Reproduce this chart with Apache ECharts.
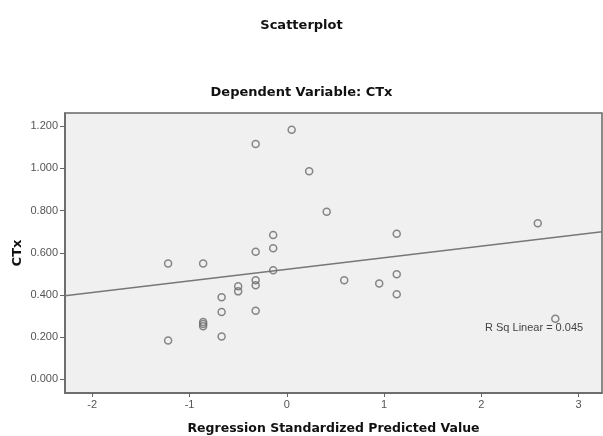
<!DOCTYPE html>
<html>
<head>
<meta charset="utf-8">
<script src="https://cdn.jsdelivr.net/npm/echarts@6/dist/echarts.min.js"></script>
<style>html,body{margin:0;padding:0;background:#fff}#c{width:603px;height:436px}</style>
</head>
<body>
<div id="c"></div>
<script>
// Regression standardized predicted value (x)
var predX = [0.05, -0.32, 0.23, 0.41, -0.14, -0.14, -0.32, -1.22, -0.86, -0.14,
             -0.32, -0.32, -0.50, -0.50, -0.67, -0.67, -0.32, -0.86, -0.86, -0.86,
             -0.67, -1.22, 0.59, 2.58, 1.13, 1.13, 0.95, 1.13, 2.76];
// CTx (y)
var ctx = [1.184, 1.116, 0.987, 0.795, 0.684, 0.622, 0.605, 0.549, 0.549, 0.517,
           0.470, 0.446, 0.441, 0.417, 0.389, 0.319, 0.325, 0.272, 0.262, 0.252,
           0.203, 0.184, 0.470, 0.740, 0.690, 0.498, 0.454, 0.403, 0.287];
var xTicks = [-2, -1, 0, 1, 2, 3];
var yTicks = [0, 0.2, 0.4, 0.6, 0.8, 1.0, 1.2];
var xRange = [-2.28, 3.24];
var yRange = [-0.065, 1.263];
// Fit line
var fitIntercept = 0.522;
var fitSlope = 0.055;
var rSqText = 'R Sq Linear = 0.045';

var pts = predX.map(function (x, i) { return [x, ctx[i]]; });
var fitLine = xRange.map(function (x) { return [x, fitIntercept + fitSlope * x]; });

var chart = echarts.init(document.getElementById('c'), null, {renderer: 'canvas'});
var tickFont = {fontFamily: 'Liberation Sans', fontSize: 11, color: '#555'};
chart.setOption({
  animation: false,
  title: [
    {text: 'Scatterplot', left: 'center', top: 14,
     textStyle: {fontFamily: 'DejaVu Sans', fontWeight: 'bold', fontSize: 13, color: '#111'}},
    {text: 'Dependent Variable: CTx', left: 'center', top: 81,
     textStyle: {fontFamily: 'DejaVu Sans', fontWeight: 'bold', fontSize: 13, color: '#111'}}
  ],
  grid: {left: 65, right: 1, top: 113, bottom: 43, show: true, containLabel: false,
         outerBoundsMode: 'none',
         backgroundColor: '#f0f0f0', borderColor: '#666', borderWidth: 1.5},
  xAxis: {
    type: 'value', min: xRange[0], max: xRange[1],
    name: 'Regression Standardized Predicted Value', nameLocation: 'middle', nameGap: 29,
    nameTextStyle: {fontFamily: 'DejaVu Sans', fontWeight: 'bold', fontSize: 12.5, color: '#111'},
    axisLine: {show: true, onZero: false, lineStyle: {color: '#666', width: 1.5}},
    axisTick: {show: true, length: 4, customValues: xTicks, lineStyle: {color: '#666'}},
    axisLabel: Object.assign({customValues: xTicks, margin: 6}, tickFont),
    splitLine: {show: false}
  },
  yAxis: {
    type: 'value', min: yRange[0], max: yRange[1],
    name: 'CTx', nameLocation: 'middle', nameGap: 41, nameRotate: 90, nameMoveOverlap: false,
    nameTextStyle: {fontFamily: 'DejaVu Sans', fontWeight: 'bold', fontSize: 13, color: '#111'},
    axisLine: {show: true, onZero: false, lineStyle: {color: '#666', width: 1.5}},
    axisTick: {show: true, length: 5, customValues: yTicks, lineStyle: {color: '#666'}},
    axisLabel: Object.assign({customValues: yTicks, margin: 7,
      formatter: function (v) { return v.toFixed(3); }}, tickFont),
    splitLine: {show: false}
  },
  series: [
    {type: 'line', data: fitLine, symbol: 'none', silent: true,
     lineStyle: {color: '#777', width: 1.5}, z: 1},
    {type: 'scatter', data: pts, symbol: 'circle', symbolSize: 7,
     itemStyle: {color: 'rgba(240,240,240,0)', borderColor: '#6a6a6a', borderWidth: 1.5}, z: 2}
  ],
  graphic: [
    {type: 'text', left: 485, top: 322,
     style: {text: rSqText, font: '11px "Liberation Sans"', fill: '#444'}}
  ]
});
</script>
</body>
</html>
